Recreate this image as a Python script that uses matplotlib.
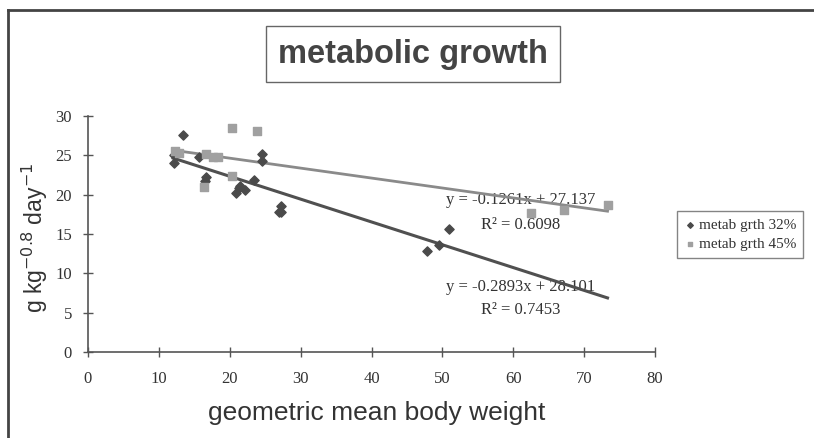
import matplotlib
matplotlib.use("Agg")
import matplotlib.pyplot as plt
from matplotlib.lines import Line2D

# metab grth 32% (diamonds)
x32 = [13.4, 12.1, 12.1, 15.6, 16.7, 16.5, 20.9, 21.5, 22.1, 21.3, 23.4, 24.6, 24.6,
       27.2, 26.9, 27.3, 51.0, 47.8, 49.5]
y32 = [27.6, 25.0, 24.0, 24.8, 22.2, 21.7, 20.2, 21.1, 20.6, 20.8, 21.9, 25.2, 24.2,
       18.5, 17.8, 17.8, 15.6, 12.9, 13.6]
# metab grth 45% (squares)
x45 = [20.3, 23.9, 12.3, 12.9, 16.7, 17.7, 18.4, 16.4, 20.3, 62.5, 67.1, 73.3]
y45 = [28.4, 28.1, 25.5, 25.3, 25.1, 24.7, 24.7, 20.9, 22.4, 17.7, 18.1, 18.7]

# trendlines as printed on the chart
fit32 = (-0.2893, 28.101, 0.7453)
fit45 = (-0.1261, 27.137, 0.6098)
fit_range = [12.0, 73.3]

x_ticks = [0, 10, 20, 30, 40, 50, 60, 70, 80]
y_ticks = [0, 5, 10, 15, 20, 25, 30]

W, H = 814, 438
fig = plt.figure(figsize=(W / 100, H / 100), dpi=100)
ax = fig.add_axes([88 / W, 1 - 352.3 / H, 567 / W, (352.3 - 115.7) / H])

serif = "Liberation Serif"
sans = "Liberation Sans"
plt.rcParams["mathtext.fontset"] = "custom"
plt.rcParams["mathtext.rm"] = sans

ax.plot(fit_range, [fit32[0] * v + fit32[1] for v in fit_range], color="#505050", lw=2.2, zorder=2)
ax.plot(fit_range, [fit45[0] * v + fit45[1] for v in fit_range], color="#8a8a8a", lw=2.0, zorder=2)

ax.scatter(x32, y32, marker="D", s=22, color="#4a4a4a", zorder=3, label="metab grth 32%")
ax.scatter(x45, y45, marker="s", s=28, color="#a0a0a0", zorder=3, label="metab grth 45%")

eq_style = dict(family=serif, fontsize=12, ha="center", va="center", color="#333333", zorder=1)
ax.text(61.1, 19.3, f"y = {fit45[0]:.4f}x + {fit45[1]:.3f}", **eq_style)
ax.text(61.1, 16.2, f"R\u00b2 = {fit45[2]:.4f}", **eq_style)
ax.text(61.1, 8.3, f"y = {fit32[0]:.4f}x + {fit32[1]:.3f}", **eq_style)
ax.text(61.1, 5.4, f"R\u00b2 = {fit32[2]:.4f}", **eq_style)

ax.set_xlim(0, 80)
ax.set_ylim(0, 30)
ax.set_xticks(x_ticks)
ax.set_yticks(y_ticks)
for side in ("top", "right"):
    ax.spines[side].set_visible(False)
for side in ("left", "bottom"):
    ax.spines[side].set_color("#555555")
    ax.spines[side].set_linewidth(1.2)
ax.tick_params(direction="inout", length=7, width=1, color="#555555", labelsize=12,
               labelcolor="#333333")
ax.tick_params(axis="x", pad=10)
ax.tick_params(axis="y", pad=8)
for lab in ax.get_xticklabels() + ax.get_yticklabels():
    lab.set_family(serif)

ax.set_xlabel("geometric mean body weight", family=sans, fontsize=19, color="#333333")
ax.xaxis.set_label_coords((377 - 88) / 567, -(413 - 352.3) / 236.6)
ax.xaxis.label.set_va("center")
ax.set_ylabel("g kg$^{\\mathrm{-0.8}}$ day$^{\\mathrm{-1}}$", family=sans, fontsize=16.5,
              color="#333333")
ax.yaxis.set_label_coords((35 - 88) / 567, (352.3 - 238) / 236.6)
ax.yaxis.label.set_va("center")

fig.text(413 / W, 1 - 54 / H, "metabolic growth", family=sans, fontweight="bold", fontsize=23.5,
         ha="center", va="center", color="#444444",
         bbox=dict(boxstyle="square,pad=0.38", fc="white", ec="#666666", lw=1))

leg = fig.legend(loc="center", bbox_to_anchor=(740 / W, 1 - 234.5 / H), prop={"family": serif, "size": 11},
                 frameon=True, fancybox=False, edgecolor="#666666", handletextpad=0.2,
                 handlelength=0.8, borderpad=0.45, labelspacing=0.35, markerscale=0.6)
for t in leg.get_texts():
    t.set_color("#333333")

fig.add_artist(Line2D([8 / W, 1], [1 - 10 / H, 1 - 10 / H], color="#444444", lw=2))
fig.add_artist(Line2D([8 / W, 8 / W], [0, 1 - 10 / H], color="#444444", lw=2))

fig.savefig("out.png", dpi=100)
